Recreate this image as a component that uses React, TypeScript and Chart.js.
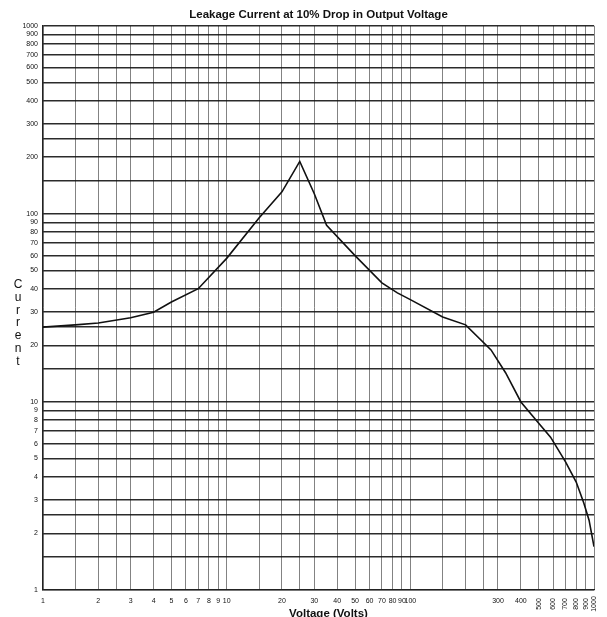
import React, { useEffect, useRef } from "react";
import { Chart, registerables } from "chart.js";

Chart.register(...registerables);

const voltage = [1, 1.5, 2, 3, 4, 5, 7, 10, 15, 20, 25, 30, 35, 50, 70, 85, 100, 150, 200, 275, 330, 400, 500, 580, 700, 800, 880, 940, 1000];
const current = [25, 25.7, 26.3, 28, 30, 34, 40, 58, 95, 131, 190, 128, 87, 60, 43, 38, 35, 28.3, 25.7, 18.9, 14.3, 10, 7.7, 6.5, 4.8, 3.75, 2.9, 2.35, 1.7];

const gridValues = [1, 1.5, 2, 2.5, 3, 4, 5, 6, 7, 8, 9, 10, 15, 20, 25, 30, 40, 50, 60, 70, 80, 90, 100, 150, 200, 250, 300, 400, 500, 600, 700, 800, 900, 1000];
const yLabels = [1, 2, 3, 4, 5, 6, 7, 8, 9, 10, 20, 30, 40, 50, 60, 70, 80, 90, 100, 200, 300, 400, 500, 600, 700, 800, 900, 1000];
const xLabels = [1, 2, 3, 4, 5, 6, 7, 8, 9, 10, 20, 30, 40, 50, 60, 70, 80, 90, 100, 300, 400];
const xRotatedLabels = [500, 600, 700, 800, 900, 1000];

const titleText = "Leakage Current at 10% Drop in Output Voltage";
const yTitle = "Current";
const xTitle = "Voltage (Volts)";

const FONT = "'Liberation Sans', Arial, sans-serif";

export default function App() {
  const ref = useRef<HTMLCanvasElement | null>(null);

  useEffect(() => {
    if (!ref.current) return;
    const extras = {
      id: "extras",
      afterDraw(chart: any) {
        const ctx = chart.ctx;
        const xs = chart.scales.x;
        const area = chart.chartArea;
        ctx.save();
        ctx.fillStyle = "#111";
        ctx.font = `12px ${FONT}`;
        ctx.textAlign = "center";
        ctx.textBaseline = "middle";
        const letters = yTitle.split("");
        letters.forEach((ch: string, i: number) => {
          ctx.fillText(ch, 18, 285 + i * 12.7);
        });
        ctx.font = `bold 11.5px ${FONT}`;
        ctx.fillText(xTitle, (area.left + area.right) / 2 + 10, area.bottom + 24);
        ctx.font = `7px ${FONT}`;
        xRotatedLabels.forEach((v) => {
          const px = xs.getPixelForValue(v);
          ctx.save();
          ctx.translate(px, area.bottom + 14);
          ctx.rotate(-Math.PI / 2);
          ctx.textAlign = "center";
          ctx.textBaseline = "middle";
          ctx.fillText(String(v), 0, 0);
          ctx.restore();
        });
        ctx.restore();
      },
    };

    const chart = new Chart(ref.current, {
      type: "line",
      data: {
        datasets: [
          {
            data: voltage.map((v, i) => ({ x: v, y: current[i] })),
            borderColor: "#111",
            borderWidth: 1.6,
            pointRadius: 0,
            tension: 0,
            fill: false,
          },
        ],
      },
      options: {
        animation: false,
        responsive: false,
        maintainAspectRatio: false,
        layout: { padding: { left: 0, right: 13, top: 0, bottom: 0 } },
        plugins: {
          legend: { display: false },
          tooltip: { enabled: false },
          title: {
            display: true,
            fullSize: false,
            text: titleText,
            color: "#111",
            font: { family: FONT, size: 11.5, weight: "bold" },
            padding: { top: 8, bottom: 4 },
          },
        },
        scales: {
          x: {
            type: "logarithmic",
            min: 1,
            max: 1000,
            afterBuildTicks: (scale: any) => {
              scale.ticks = gridValues.map((v) => ({ value: v }));
            },
            afterFit: (scale: any) => {
              scale.height = 27;
            },
            ticks: {
              autoSkip: false,
              maxRotation: 0,
              minRotation: 0,
              padding: 7,
              color: "#111",
              font: { family: FONT, size: 7 },
              callback: (value: any) => (xLabels.includes(Number(value)) ? String(value) : ""),
            },
            grid: {
              color: "rgba(90,90,90,0.75)",
              lineWidth: 1,
              drawTicks: false,
            },
            border: { display: true, color: "#222", width: 1.2 },
            title: { display: false },
          },
          y: {
            type: "logarithmic",
            min: 1,
            max: 1000,
            afterBuildTicks: (scale: any) => {
              scale.ticks = gridValues.map((v) => ({ value: v }));
            },
            afterFit: (scale: any) => {
              scale.width = 43;
            },
            ticks: {
              autoSkip: false,
              padding: 5,
              color: "#111",
              font: { family: FONT, size: 7 },
              callback: (value: any) => (yLabels.includes(Number(value)) ? String(value) : ""),
            },
            grid: {
              color: "rgba(20,20,20,0.9)",
              lineWidth: 1.6,
              drawTicks: false,
            },
            border: { display: true, color: "#222", width: 1.2 },
            title: { display: false },
          },
        },
      },
      plugins: [extras],
    } as any);
    return () => chart.destroy();
  }, []);

  return (
    <div style={{ position: "fixed", left: 0, top: 0, width: 607, height: 617, background: "#fff" }}>
      <canvas ref={ref} width={607} height={617} style={{ display: "block", width: 607, height: 617 }} />
    </div>
  );
}
